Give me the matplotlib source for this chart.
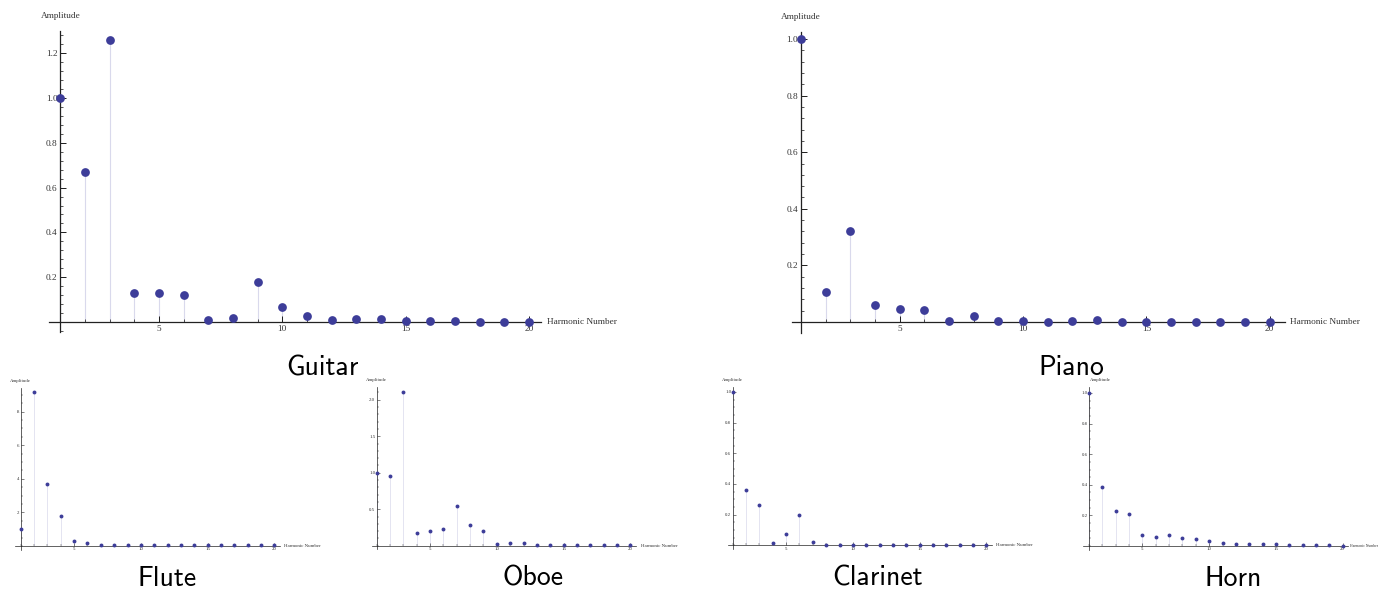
import numpy as np
import matplotlib
matplotlib.use("Agg")
import matplotlib.pyplot as plt
from matplotlib.ticker import MultipleLocator, FixedLocator, FormatStrFormatter

# harmonic amplitude spectra
harmonics = np.arange(1, 21)
guitar = [1.0, 0.67, 1.26, 0.13, 0.13, 0.12, 0.01, 0.02, 0.18, 0.065,
          0.025, 0.01, 0.015, 0.015, 0.005, 0.005, 0.005, 0.002, 0.002, 0.002]
piano = [1.0, 0.105, 0.32, 0.06, 0.045, 0.043, 0.003, 0.02, 0.003, 0.003,
         0.0, 0.003, 0.007, 0.0, 0.0, 0.0, 0.0, 0.0, 0.0, 0.0]
flute = [1.0, 9.15, 3.7, 1.8, 0.3, 0.15, 0.05, 0.08, 0.05, 0.05,
         0.03, 0.05, 0.03, 0.05, 0.05, 0.03, 0.05, 0.03, 0.03, 0.03]
oboe = [1.0, 0.955, 2.1, 0.18, 0.205, 0.228, 0.543, 0.288, 0.205, 0.023,
        0.032, 0.04, 0.015, 0.005, 0.003, 0.003, 0.003, 0.003, 0.003, 0.003]
clarinet = [1.0, 0.36, 0.263, 0.015, 0.076, 0.196, 0.022, 0.005, 0.005, 0.003,
            0.002, 0.002, 0.002, 0.005, 0.002, 0.002, 0.002, 0.002, 0.002, 0.002]
horn = [1.0, 0.386, 0.231, 0.209, 0.074, 0.057, 0.07, 0.054, 0.048, 0.03,
        0.02, 0.015, 0.014, 0.01, 0.011, 0.006, 0.006, 0.006, 0.004, 0.003]

guitar_ticks = [0.2, 0.4, 0.6, 0.8, 1.0, 1.2]
piano_ticks = [0.2, 0.4, 0.6, 0.8, 1.0]
flute_ticks = [2, 4, 6, 8]
oboe_ticks = [0.5, 1.0, 1.5, 2.0]
clarinet_ticks = [0.2, 0.4, 0.6, 0.8, 1.0]
horn_ticks = [0.2, 0.4, 0.6, 0.8, 1.0]
x_ticks = [5, 10, 15, 20]

W, H = 1379, 592
DOT = (0.24, 0.24, 0.6)
STEM = "#d9d9ec"
SERIF = "Liberation Serif"

fig = plt.figure(figsize=(W / 100, H / 100), dpi=100)


def add_panel(values, yticks, minor, fmt, x1px, xunit, y0px, yunit, xlim, ylim,
              big=True, amp_dx=0, hn_fs=None, hn_pad=None):
    # pixel geometry -> axes rect (x1px: pixel of harmonic 1, y0px: pixel of amplitude 0)
    left = x1px + (xlim[0] - 1) * xunit
    right = x1px + (xlim[1] - 1) * xunit
    top = y0px - ylim[1] * yunit
    bottom = y0px - ylim[0] * yunit
    ax = fig.add_axes([left / W, 1 - bottom / H, (right - left) / W, (bottom - top) / H])
    ax.set_xlim(xlim)
    ax.set_ylim(ylim)
    ax.patch.set_alpha(0)

    fs = 6.7 if big else 3.5
    ms = 6.3 if big else 2.8
    lw_ax = 0.9 if big else 0.5
    slw = 0.8 if big else 0.5

    ax.vlines(harmonics, 0, values, color=STEM, lw=slw, zorder=1)
    ax.plot(harmonics, values, "o", color=DOT, ms=ms, mec=DOT, mew=0,
            zorder=4, clip_on=False)

    for s in ("top", "right"):
        ax.spines[s].set_visible(False)
    ax.spines["left"].set_position(("data", 1))
    ax.spines["bottom"].set_position(("data", 0))
    for s in ("left", "bottom"):
        ax.spines[s].set_linewidth(lw_ax)
        ax.spines[s].set_color("#222222")
        ax.spines[s].set_zorder(2)

    ax.xaxis.set_major_locator(FixedLocator(x_ticks))
    ax.xaxis.set_minor_locator(MultipleLocator(1))
    ax.yaxis.set_major_locator(FixedLocator(yticks))
    ax.yaxis.set_minor_locator(MultipleLocator(minor))
    ax.yaxis.set_major_formatter(FormatStrFormatter(fmt))

    tl = 4 if big else 2
    ax.tick_params(which="major", direction="in", length=tl, width=lw_ax * 0.8,
                   color="#222222", labelsize=fs, labelcolor="#333333",
                   pad=2 if big else 1)
    ax.tick_params(which="minor", direction="in", length=tl * 0.55,
                   width=lw_ax * 0.6, color="#222222")
    for lab in ax.get_xticklabels() + ax.get_yticklabels():
        lab.set_fontfamily(SERIF)

    off = 15 if big else 7
    ax.annotate("Amplitude", xy=(1, ylim[1]), xycoords="data",
                xytext=(amp_dx, off * 0.72), textcoords="offset points",
                ha="center", va="center", fontsize=fs, family=SERIF, color="#333333")
    if hn_pad is None:
        hn_pad = 4 if big else 3
    ax.annotate("Harmonic Number", xy=(xlim[1], 0), xycoords="data",
                xytext=(hn_pad, 0), textcoords="offset points",
                ha="left", va="center", fontsize=hn_fs or fs, family=SERIF,
                color="#333333", annotation_clip=False)
    return ax


add_panel(guitar, guitar_ticks, 0.04, "%.1f", 60.3, 24.67, 322, 224,
          (0.55, 20.5), (-0.045, 1.30))
add_panel(piano, piano_ticks, 0.04, "%.1f", 801, 24.67, 322, 283,
          (0.64, 20.6), (-0.039, 1.025))
add_panel(flute, flute_ticks, 0.5, "%d", 20.7, 13.35, 546, 16.8,
          (0.57, 20.4), (-0.24, 9.4), big=False)
add_panel(oboe, oboe_ticks, 0.1, "%.1f", 376.7, 13.35, 545.7, 73,
          (0.63, 20.45), (-0.045, 2.17), big=False)
add_panel(clarinet, clarinet_ticks, 0.05, "%.1f", 732.7, 13.35, 545.3, 153.3,
          (0.63, 20.4), (-0.025, 1.035), big=False)
# the horn panel sits against the right edge, so its axis label is squeezed
add_panel(horn, horn_ticks, 0.05, "%.1f", 1089, 13.35, 546, 153,
          (0.56, 20.4), (-0.025, 1.04), big=False, amp_dx=8, hn_fs=2.7, hn_pad=1.5)

titles = ["Guitar", "Piano", "Flute", "Oboe", "Clarinet", "Horn"]
# (x centre, text bottom) in pixels
title_pos = [(322, 380), (1071, 380), (167, 591), (533, 591), (878, 591), (1233, 591)]
for name, (tx, ty) in zip(titles, title_pos):
    fig.text(tx / W, 1 - ty / H, name, ha="center", va="bottom",
             fontsize=20, family=["cmss10", "DejaVu Sans"], color="black")

fig.savefig("out.png", dpi=100)
